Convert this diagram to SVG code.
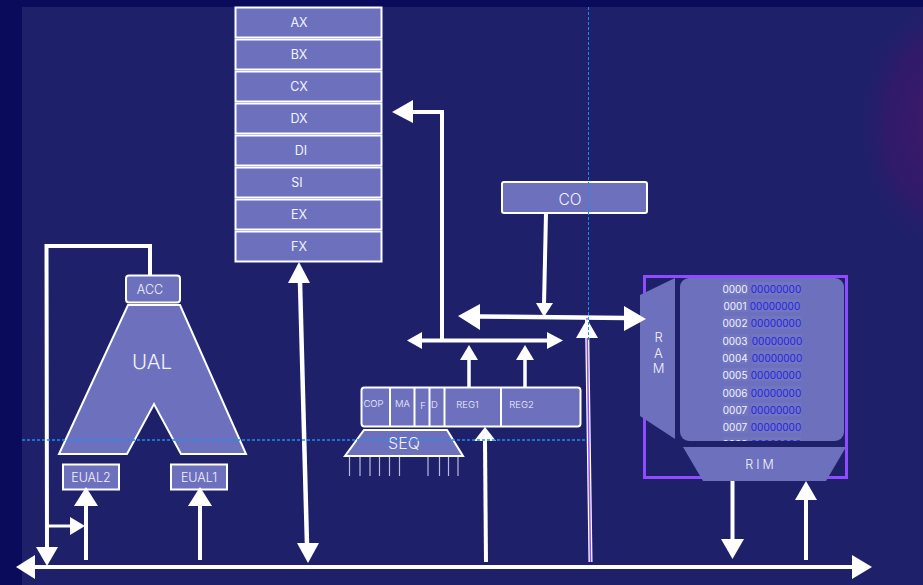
<svg xmlns="http://www.w3.org/2000/svg" width="923" height="585" viewBox="0 0 923 585">
<defs>
<radialGradient id="glow" gradientUnits="userSpaceOnUse" cx="940" cy="125" r="105" gradientTransform="translate(940 125) scale(0.85 1.3) translate(-940 -125)">
<stop offset="0" stop-color="#40186a"/><stop offset="0.6" stop-color="#36196a" stop-opacity="0.75"/><stop offset="1" stop-color="#1e206a" stop-opacity="0"/>
</radialGradient>
<clipPath id="memclip"><rect x="680" y="278" width="164" height="163" rx="9"/></clipPath>
<style>
text{font-family:Inter,"Noto Sans","Liberation Sans",sans-serif;font-weight:300;fill:#f2f2fb;text-anchor:middle}
.n{fill:#6c70bd;stroke:#fff;stroke-width:2}
.m{fill:#6c70bd}
.w{fill:none;stroke:#fff;stroke-linecap:butt;stroke-linejoin:miter}
.h{fill:#fff}
.r{font-size:12.5px;font-weight:400}
.a{font-size:10px;font-weight:400}
.b{font-size:10px;fill:#2424e0;font-weight:400}
.c{fill:#7276c1}
.d{fill:none;stroke:#1c8df0;stroke-width:1;stroke-dasharray:3 2}
.p{stroke:#b9b9de;stroke-width:1.2}
</style>
</defs>
<rect width="923" height="585" fill="#1e206a"/>
<rect width="923" height="585" fill="url(#glow)"/>
<rect x="0" y="0" width="923" height="7" fill="#0b0b5c"/>
<rect x="0" y="0" width="22" height="585" fill="#0b0b5c"/>

<g id="registers">
<g id="reg-ax"><rect class="n" x="235.500" y="7.500" width="146" height="30"/><text class="r" x="299" y="27">AX</text></g>
<g id="reg-bx"><rect class="n" x="235.500" y="39.500" width="146" height="30"/><text class="r" x="299" y="59">BX</text></g>
<g id="reg-cx"><rect class="n" x="235.500" y="71.500" width="146" height="30"/><text class="r" x="299" y="91">CX</text></g>
<g id="reg-dx"><rect class="n" x="235.500" y="103.500" width="146" height="30"/><text class="r" x="299" y="123">DX</text></g>
<g id="reg-di"><rect class="n" x="235.500" y="135.500" width="146" height="30"/><text class="r" x="301" y="155">DI</text></g>
<g id="reg-si"><rect class="n" x="235.500" y="167.500" width="146" height="30"/><text class="r" x="297" y="187">SI</text></g>
<g id="reg-ex"><rect class="n" x="235.500" y="199.500" width="146" height="30"/><text class="r" x="299" y="219">EX</text></g>
<g id="reg-fx"><rect class="n" x="235.500" y="231.500" width="146" height="30"/><text class="r" x="299" y="251">FX</text></g>
</g>

<g id="ual"><polygon class="n" stroke-width="1.500" points="128,305 180,305 246,454 181,454 154,404 127,454 59,454"/><text x="152" y="369" font-size="20.500">UAL</text></g>
<g id="acc"><rect class="n" x="126" y="275.500" width="54" height="27" rx="3"/><text x="150" y="294" font-size="12.500">ACC</text></g>
<g id="eual2"><rect class="n" x="63" y="464.500" width="56" height="25"/><text x="91" y="482" font-size="12.500">EUAL2</text></g>
<g id="eual1"><rect class="n" x="171" y="464.500" width="56" height="25"/><text x="199" y="482" font-size="12.500">EUAL1</text></g>

<g id="co"><rect class="n" x="502" y="182" width="145" height="31" rx="2"/><text x="570" y="205" font-size="15.500">CO</text></g>

<g id="decoder">
<rect class="n" x="361.500" y="387.500" width="219" height="39" rx="3"/>
<path class="w" stroke-width="2" d="M390 387V427M414.500 387V427M429.500 387V427M444.500 387V427M501 387V427"/>
<text x="373.500" y="407" font-size="9.500">COP</text>
<text x="402.500" y="407" font-size="9.500">MA</text>
<text x="423" y="409" font-size="9.500">F</text>
<text x="434.500" y="408" font-size="9.500">D</text>
<text x="467.500" y="408" font-size="9.500">REG1</text>
<text x="521.500" y="408" font-size="9.500">REG2</text>
</g>

<g id="seq">
<polygon class="n" points="364,430 447,430 463,456 345,456"/>
<text x="404" y="449" font-size="16">SEQ</text>
<path class="p" fill="none" d="M349.500 457V476M360 457V476M370 457V476M379.500 457V476M389.500 457V476M399.500 457V476M428 457V476M439.500 457V476M448.500 457V476M458 457V476"/>
</g>

<g id="ram">
<rect x="644.500" y="276.500" width="202" height="201" fill="none" stroke="#8f4bff" stroke-width="3"/>
<g id="ram-label"><polygon class="m" points="640,295 675,278 675,439 640,416"/><text x="658.500" y="342" font-size="13">R</text><text x="658.500" y="358" font-size="13">A</text><text x="658.500" y="373" font-size="13">M</text></g>
<g id="memory"><rect class="m" x="680" y="278" width="164" height="163" rx="9"/>
<g clip-path="url(#memclip)">
<rect class="c" x="723" y="282" width="25" height="13"/><rect class="c" x="751" y="282" width="50" height="13"/>
<rect class="c" x="723" y="299" width="25" height="13"/><rect class="c" x="750" y="299" width="50" height="13"/>
<rect class="c" x="723" y="316" width="25" height="13"/><rect class="c" x="751" y="316" width="50" height="13"/>
<rect class="c" x="723" y="334" width="25" height="13"/><rect class="c" x="752" y="334" width="50" height="13"/>
<rect class="c" x="723" y="351" width="25" height="13"/><rect class="c" x="752" y="351" width="50" height="13"/>
<rect class="c" x="723" y="368" width="25" height="13"/><rect class="c" x="751" y="368" width="50" height="13"/>
<rect class="c" x="723" y="386" width="25" height="13"/><rect class="c" x="751" y="386" width="50" height="13"/>
<rect class="c" x="723" y="403" width="25" height="13"/><rect class="c" x="751" y="403" width="50" height="13"/>
<rect class="c" x="723" y="420" width="25" height="13"/><rect class="c" x="751" y="420" width="50" height="13"/>
<rect class="c" x="723" y="437" width="25" height="13"/><rect class="c" x="751" y="437" width="50" height="13"/>
<text class="a" x="735" y="292.500">0000</text><text class="b" x="776" y="292.500">00000000</text>
<text class="a" x="735" y="309.500">0001</text><text class="b" x="775" y="309.500">00000000</text>
<text class="a" x="735" y="327">0002</text><text class="b" x="776" y="327">00000000</text>
<text class="a" x="735" y="344.500">0003</text><text class="b" x="777" y="344.500">00000000</text>
<text class="a" x="735" y="361.500">0004</text><text class="b" x="777" y="361.500">00000000</text>
<text class="a" x="735" y="379">0005</text><text class="b" x="776" y="379">00000000</text>
<text class="a" x="735" y="396.500">0006</text><text class="b" x="776" y="396.500">00000000</text>
<text class="a" x="735" y="413.500">0007</text><text class="b" x="776" y="413.500">00000000</text>
<text class="a" x="735" y="431">0007</text><text class="b" x="776" y="431">00000000</text>
<text class="a" x="735" y="448">0008</text><text class="b" x="776" y="448">00000000</text>
</g></g>
<g id="rim"><polygon class="m" points="683,447 846,447 826,481 703,481"/><text x="761" y="469" font-size="12.500" letter-spacing="3">RIM</text></g>
</g>

<g id="connectors">
<path class="w" stroke-width="4" d="M35 567H852"/>
<polygon class="h" points="16,567 35,555 35,579"/><polygon class="h" points="872,567 852,555 852,579"/>
<path class="w" stroke-width="4" d="M150 275V246H46.500L47 548"/>
<polygon class="h" points="47,566 36,547 58,547"/>
<path class="w" stroke-width="3" d="M48 526H71"/><polygon class="h" points="85,526 70,517 70,535"/>
<path class="w" stroke-width="4" d="M86 560V505"/><polygon class="h" points="86,487 74,506 98,506"/>
<path class="w" stroke-width="4" d="M200 560V505"/><polygon class="h" points="200,487 188,506 212,506"/>
<path class="w" stroke-width="4.500" d="M300 282L307 545"/>
<polygon class="h" points="299,262 288,283 310,283"/><polygon class="h" points="308,563 297,543 319,543"/>
<path class="w" stroke-width="4" d="M442 340V112H412"/><polygon class="h" points="392,112 413,100 413,123"/>
<path class="w" stroke-width="4" d="M421 340.500H548"/>
<polygon class="h" points="407,340.500 422,332 422,349"/><polygon class="h" points="563,340.500 547,332 547,349"/>
<path class="w" stroke-width="4.500" d="M479 316.500L626 318"/>
<polygon class="h" points="458,316 480,304 480,330"/><polygon class="h" points="646,319 624,306 624,331"/>
<path class="w" stroke-width="4" d="M546 213L544 305"/><polygon class="h" points="544,317 536,303 553,303"/>
<path class="w" stroke-width="3.500" d="M469 387V359"/><polygon class="h" points="469,345 460,360 478,360"/>
<path class="w" stroke-width="3.500" d="M525 387V359"/><polygon class="h" points="525,345 516,360 534,360"/>
<path class="w" stroke-width="4" d="M485 440L486 562"/><polygon class="h" points="485,427 474,441 496,441"/>
<path class="w" stroke-width="4" d="M587 318L590.500 562"/>
<path fill="none" stroke="#8f4bff" stroke-width="1.500" d="M587 318L590.500 562"/>
<polygon class="h" points="587,319 576,338 598,338"/>
<path class="w" stroke-width="4" d="M732.500 481V541"/><polygon class="h" points="732.500,559 721,539 744,539"/>
<path class="w" stroke-width="4" d="M806 560V498"/><polygon class="h" points="806,481 795,500 817,500"/>
</g>

<g id="guides">
<line class="d" style="stroke-width:1.500" x1="22" y1="440" x2="586" y2="440"/>
<line class="d" x1="588.500" y1="7" x2="588.500" y2="340"/>
</g>
</svg>
